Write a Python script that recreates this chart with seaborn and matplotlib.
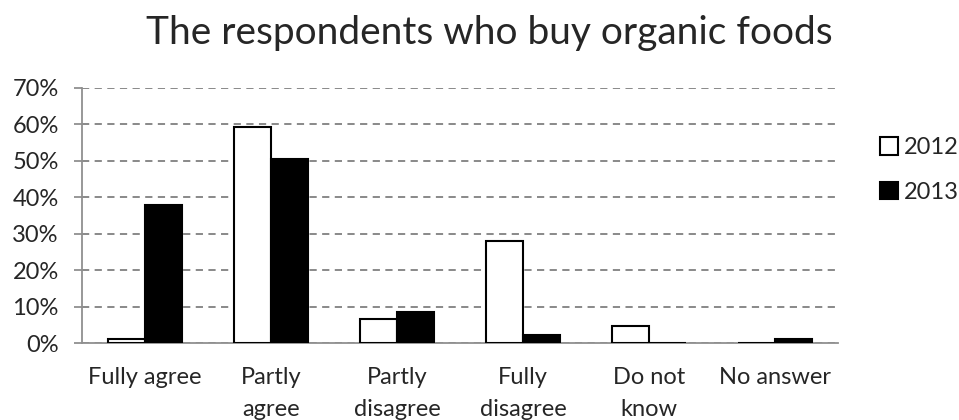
import matplotlib
matplotlib.use("Agg")
import matplotlib.pyplot as plt
import matplotlib.ticker as mtick
import seaborn as sns
import pandas as pd

categories = ["Fully agree", "Partly\nagree", "Partly\ndisagree", "Fully\ndisagree", "Do not\nknow", "No answer"]
years = ["2012", "2013"]
values_2012 = [1.2, 59.3, 6.5, 28.1, 4.8, 0.0]
values_2013 = [37.9, 50.5, 8.4, 2.1, 0.0, 1.2]

df = pd.DataFrame({
    "category": categories * 2,
    "year": [years[0]] * len(categories) + [years[1]] * len(categories),
    "value": values_2012 + values_2013,
})

sns.set_style("white")
plt.rcParams["font.family"] = ["Lato", "DejaVu Sans"]

fig = plt.figure(figsize=(9.59, 4.2), dpi=100)
# axes placed in pixel units of the 959x420 canvas
ax = fig.add_axes([82 / 959, 1 - 343 / 420, (838 - 82) / 959, (343 - 88) / 420])

sns.barplot(data=df, x="category", y="value", hue="year", palette=["white", "black"],
            edgecolor="black", linewidth=1.5, width=0.58, ax=ax, zorder=3)

ax.set_ylim(0, 70)
ax.set_xlim(-0.5, len(categories) - 0.5)
ax.yaxis.set_major_locator(mtick.MultipleLocator(10))
ax.yaxis.set_major_formatter(mtick.PercentFormatter(decimals=0))
ax.yaxis.grid(True, color="#808080", linestyle=(0, (4, 3)), linewidth=1.3, zorder=0)
ax.set_axisbelow(True)
ax.set_xlabel("")
ax.set_ylabel("")

for side in ["top", "right"]:
    ax.spines[side].set_visible(False)
for side in ["left", "bottom"]:
    ax.spines[side].set_color("#909090")
    ax.spines[side].set_linewidth(1.3)

ax.tick_params(axis="y", which="major", left=True, length=5.8, width=1.3, color="#909090",
               labelsize=17, pad=11)
ax.tick_params(axis="x", bottom=False, labelsize=17, pad=14)
for lbl in ax.get_xticklabels():
    lbl.set_verticalalignment("top")
    lbl.set_linespacing(1.65)

leg = ax.legend(loc="center left", bbox_to_anchor=(880 / 959, 250 / 420), bbox_transform=fig.transFigure,
                frameon=False, fontsize=17, handlelength=0.76, handleheight=0.76, handletextpad=0.25,
                labelspacing=1.0, borderpad=0, borderaxespad=0)
for h in leg.legend_handles:
    h.set_edgecolor("black")
    h.set_linewidth(1.5)

fig.text(489 / 959, 1 - 44 / 420, "The respondents who buy organic foods", ha="center", va="baseline",
         fontsize=28)

fig.savefig("out.png", dpi=100)
